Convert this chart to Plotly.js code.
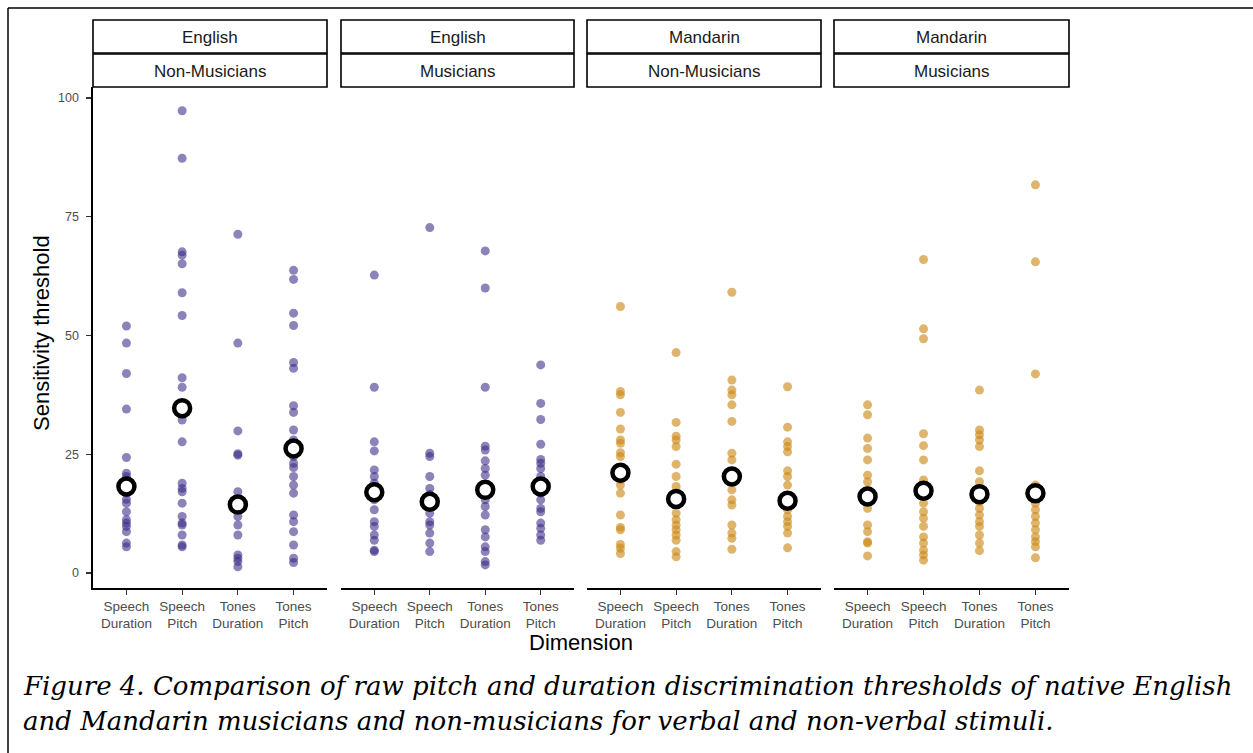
<!DOCTYPE html>
<html>
<head>
<meta charset="utf-8">
<script src="https://cdn.plot.ly/plotly-3.0.1.min.js"></script>
<style>
  html, body { margin: 0; padding: 0; background: #ffffff; }
  #chart { width: 1253px; height: 753px; }
</style>
</head>
<body>
<div id="chart"></div>
<script>
// ---------------- DATA ----------------
const categories = ['Speech<br>Duration', 'Speech<br>Pitch', 'Tones<br>Duration', 'Tones<br>Pitch'];
const languages = ['English', 'English', 'Mandarin', 'Mandarin'];
const groups = ['Non-Musicians', 'Musicians', 'Non-Musicians', 'Musicians'];

// English, Non-Musicians (per dimension)
const engNonMus = [
  [52.0, 48.4, 42.0, 34.5, 24.3, 21.0, 20.3, 19.5, 16.8, 15.5, 14.7, 12.9, 11.2, 10.5, 9.8, 8.7, 6.3, 5.5],
  [97.3, 87.3, 67.6, 66.9, 65.1, 59.0, 54.2, 41.1, 39.1, 33.5, 32.2, 27.6, 18.9, 17.8, 17.1, 14.7, 11.9, 10.5, 10.1, 8.0, 5.9, 5.5],
  [71.3, 48.4, 29.9, 25.1, 24.8, 17.1, 15.0, 13.3, 11.9, 10.1, 8.0, 3.8, 3.1, 2.4, 1.3],
  [63.7, 61.8, 54.7, 52.1, 44.3, 43.1, 35.2, 33.8, 30.1, 28.0, 24.5, 23.1, 22.2, 20.3, 18.5, 16.8, 12.2, 10.8, 8.7, 5.9, 3.1, 2.2]
];
// English, Musicians
const engMus = [
  [62.7, 39.1, 27.6, 25.7, 21.7, 20.3, 18.9, 17.0, 15.4, 13.3, 10.8, 9.8, 8.0, 6.9, 4.8, 4.5],
  [72.7, 25.2, 24.5, 20.3, 17.8, 16.5, 12.6, 10.8, 10.1, 8.4, 6.3, 4.5],
  [67.8, 60.0, 39.1, 26.7, 25.9, 23.6, 22.0, 20.6, 17.5, 15.4, 14.0, 12.2, 9.1, 7.6, 5.5, 4.5, 2.4, 1.7],
  [43.8, 35.7, 32.3, 27.1, 23.9, 23.1, 22.0, 20.3, 16.8, 15.4, 13.6, 12.9, 10.5, 9.4, 8.0, 6.9]
];
// Mandarin, Non-Musicians
const manNonMus = [
  [56.1, 38.2, 37.5, 33.8, 30.3, 28.0, 27.3, 25.3, 24.5, 22.0, 19.6, 18.5, 16.8, 12.2, 9.6, 9.1, 6.0, 5.2, 4.1],
  [46.4, 31.7, 28.8, 28.0, 26.6, 22.9, 20.3, 18.2, 16.5, 12.6, 11.2, 10.1, 9.1, 8.0, 6.9, 4.5, 3.4],
  [59.1, 40.6, 38.5, 37.5, 35.4, 31.9, 25.2, 23.8, 21.5, 17.5, 15.4, 14.3, 10.1, 8.4, 7.3, 5.0],
  [39.2, 30.7, 27.6, 26.6, 25.5, 21.5, 20.3, 18.5, 16.0, 13.3, 11.9, 10.8, 9.8, 8.4, 5.3]
];
// Mandarin, Musicians
const manMus = [
  [35.4, 33.3, 28.4, 26.2, 23.8, 20.6, 19.2, 17.5, 15.0, 13.6, 10.1, 8.7, 6.6, 6.3, 3.6],
  [66.0, 51.4, 49.3, 29.3, 26.8, 23.8, 19.6, 18.5, 14.7, 12.9, 11.5, 9.8, 7.6, 6.3, 4.8, 3.8, 2.7],
  [38.5, 30.1, 29.1, 28.0, 26.6, 21.5, 19.2, 17.5, 15.0, 13.6, 12.2, 10.8, 9.8, 8.0, 6.3, 4.7],
  [81.7, 65.5, 41.9, 18.5, 17.5, 14.7, 13.3, 11.9, 10.5, 9.1, 7.6, 6.6, 5.5, 3.2]
];

// Group means (white circles)
const engNonMusMeans = [18.2, 34.7, 14.4, 26.2];
const engMusMeans = [17.0, 15.0, 17.5, 18.2];
const manNonMusMeans = [21.1, 15.6, 20.3, 15.2];
const manMusMeans = [16.1, 17.3, 16.6, 16.8];

const yTicks = [0, 25, 50, 75, 100];
const captionLine1 = 'Figure 4. Comparison of raw pitch and duration discrimination thresholds of native English';
const captionLine2 = 'and Mandarin musicians and non-musicians for verbal and non-verbal stimuli.';

// ---------------- LAYOUT / DRAW ----------------
const W = 1253, H = 753;
const px = v => v / W;
const py = v => 1 - v / H;

const panels = [engNonMus, engMus, manNonMus, manMus];
const panelMeans = [engNonMusMeans, engMusMeans, manNonMusMeans, manMusMeans];
const panelColors = ['rgba(59,42,133,0.58)', 'rgba(59,42,133,0.58)', 'rgba(204,136,20,0.62)', 'rgba(204,136,20,0.62)'];
const panelLeft = [93, 341, 587, 834];
const panelRight = [327, 574, 821, 1069];
const plotTop = 87, plotBottom = 588;
const font = 'Liberation Sans, Arial, Helvetica, sans-serif';

const traces = [];
panels.forEach((panel, p) => {
  const ax = p === 0 ? 'x' : 'x' + (p + 1);
  const xs = [], ys = [];
  panel.forEach((vals, c) => {
    vals.forEach(v => { xs.push(categories[c]); ys.push(v); });
  });
  traces.push({
    type: 'scatter', mode: 'markers', xaxis: ax, yaxis: 'y',
    x: xs, y: ys,
    marker: { size: 9, color: panelColors[p], line: { width: 0 } },
    hoverinfo: 'y', showlegend: false
  });
});
panelMeans.forEach((means, p) => {
  const ax = p === 0 ? 'x' : 'x' + (p + 1);
  traces.push({
    type: 'scatter', mode: 'markers', xaxis: ax, yaxis: 'y',
    x: categories.slice(), y: means,
    marker: { size: 16, color: '#ffffff', line: { width: 4.5, color: '#000000' } },
    hoverinfo: 'y', showlegend: false
  });
});

const layout = {
  width: W, height: H,
  margin: { l: 0, r: 0, t: 0, b: 0 },
  paper_bgcolor: '#ffffff', plot_bgcolor: '#ffffff',
  font: { family: font, color: '#4d4d4d', size: 12 },
  showlegend: false,
  yaxis: {
    domain: [py(plotBottom), py(plotTop)],
    range: [-3.16, 102.3],
    tickvals: yTicks, ticktext: yTicks.map(String),
    showgrid: false, zeroline: false,
    showline: true, linecolor: '#000000', linewidth: 1.6,
    ticks: 'outside', ticklen: 5, tickcolor: '#333333', tickwidth: 1.2,
    ticklabelstandoff: 5,
    tickfont: { family: font, size: 12.5, color: '#4d4d4d' },
    anchor: 'x', fixedrange: true
  },
  shapes: [], annotations: []
};

panels.forEach((panel, p) => {
  const key = p === 0 ? 'xaxis' : 'xaxis' + (p + 1);
  layout[key] = {
    domain: [px(panelLeft[p]), px(panelRight[p])],
    type: 'category', categoryorder: 'array', categoryarray: categories,
    range: [-0.6, 3.6],
    showgrid: false, zeroline: false,
    showline: true, linecolor: '#000000', linewidth: 1.6,
    ticks: 'outside', ticklen: 5, tickcolor: '#333333', tickwidth: 1.2,
    tickfont: { family: font, size: 13.5, color: '#4d4d4d' },
    anchor: 'y', fixedrange: true
  };
  // strip boxes
  const x0 = px(panelLeft[p]), x1 = px(panelRight[p]);
  layout.shapes.push({ type: 'rect', xref: 'paper', yref: 'paper', x0: x0, x1: x1, y0: py(53), y1: py(20),
    line: { color: '#000000', width: 1.6 }, fillcolor: '#ffffff', layer: 'above' });
  layout.shapes.push({ type: 'rect', xref: 'paper', yref: 'paper', x0: x0, x1: x1, y0: py(87), y1: py(54),
    line: { color: '#000000', width: 1.6 }, fillcolor: '#ffffff', layer: 'above' });
  layout.annotations.push({ xref: 'paper', yref: 'paper', x: (x0 + x1) / 2, y: py(37.5), text: languages[p],
    showarrow: false, xanchor: 'center', yanchor: 'middle', font: { family: font, size: 17, color: '#1a1a1a' } });
  layout.annotations.push({ xref: 'paper', yref: 'paper', x: (x0 + x1) / 2, y: py(71), text: groups[p],
    showarrow: false, xanchor: 'center', yanchor: 'middle', font: { family: font, size: 17, color: '#1a1a1a' } });
});

// axis titles
layout.annotations.push({ xref: 'paper', yref: 'paper', x: px(41), y: py(333), text: 'Sensitivity threshold',
  textangle: -90, showarrow: false, xanchor: 'center', yanchor: 'middle', font: { family: font, size: 22, color: '#000000' } });
layout.annotations.push({ xref: 'paper', yref: 'paper', x: px(581), y: py(642), text: 'Dimension',
  showarrow: false, xanchor: 'center', yanchor: 'middle', font: { family: font, size: 22, color: '#000000' } });

// caption
const capFont = { family: 'DejaVu Serif, Cambria, serif', size: 26, color: '#000000' };
layout.annotations.push({ xref: 'paper', yref: 'paper', x: px(21), y: py(686), text: '<i>' + captionLine1 + '</i>',
  showarrow: false, xanchor: 'left', yanchor: 'middle', font: capFont });
layout.annotations.push({ xref: 'paper', yref: 'paper', x: px(21), y: py(721), text: '<i>' + captionLine2 + '</i>',
  showarrow: false, xanchor: 'left', yanchor: 'middle', font: capFont });

// outer frame (top and left edges)
layout.shapes.push({ type: 'line', xref: 'paper', yref: 'paper', x0: px(8), x1: 1, y0: py(8), y1: py(8),
  line: { color: '#000000', width: 1.5 } });
layout.shapes.push({ type: 'line', xref: 'paper', yref: 'paper', x0: px(8), x1: px(8), y0: 0, y1: py(8),
  line: { color: '#000000', width: 1.5 } });

Plotly.newPlot('chart', traces, layout, { displayModeBar: false, staticPlot: true });
</script>
</body>
</html>
